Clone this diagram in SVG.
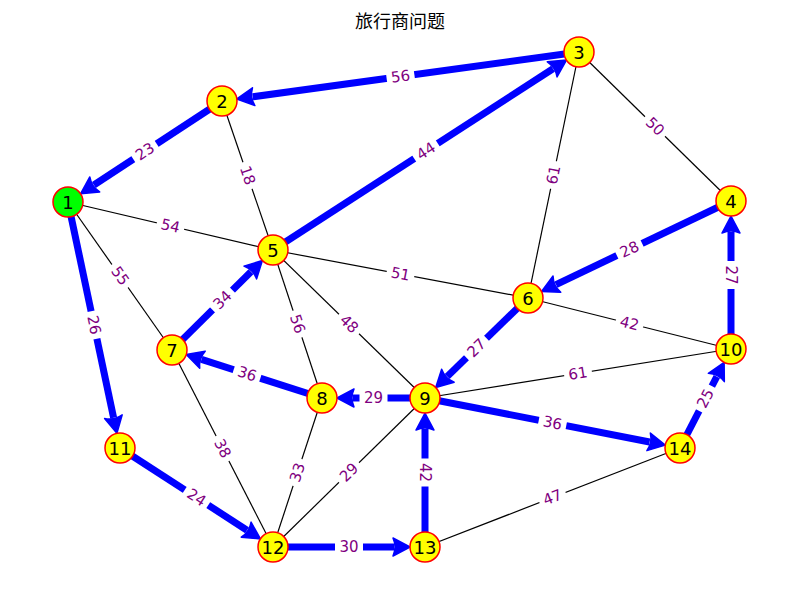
<svg xmlns="http://www.w3.org/2000/svg" width="800" height="600" viewBox="0 0 800 600">
<style>
.thin{stroke:#000;stroke-width:1.2;fill:none}
.thick{stroke:#0000ff;stroke-width:7;fill:none;marker-end:url(#ah)}
.lbg{fill:#fff}
.lt{font-family:"DejaVu Sans","Liberation Sans",sans-serif;font-size:15px;fill:#800080;text-anchor:middle;dominant-baseline:central}
.nd circle{fill:#ffff00;stroke:#ff0000;stroke-width:1.5}
.nd text{font-family:"DejaVu Sans","Liberation Sans",sans-serif;font-size:18px;fill:#000;text-anchor:middle;dominant-baseline:central}
.title{font-family:"Noto Sans CJK SC",sans-serif;font-size:18px;fill:#000;text-anchor:middle}
</style>
<defs>
<marker id="ah" markerUnits="userSpaceOnUse" orient="auto" markerWidth="22" markerHeight="22" refX="0" refY="0" viewBox="-2 -11 22 22" overflow="visible">
<path d="M-1,-9 Q3,0 -1,9 L16,0 z" fill="#0000ff" stroke="#0000ff" stroke-width="1.5" stroke-linejoin="round"/>
</marker>
</defs>
<rect width="800" height="600" fill="#fff"/>
<text class="title" x="400" y="28">旅行商问题</text>
<g id="connectors">
<line class="thin" x1="222" y1="101" x2="273" y2="250"/>
<line class="thin" x1="579" y1="52" x2="528" y2="298"/>
<line class="thin" x1="579" y1="52" x2="731" y2="201"/>
<line class="thin" x1="68" y1="202" x2="273" y2="250"/>
<line class="thin" x1="68" y1="202" x2="172" y2="350"/>
<line class="thin" x1="273" y1="250" x2="528" y2="298"/>
<line class="thin" x1="528" y1="298" x2="731" y2="349"/>
<line class="thin" x1="273" y1="250" x2="322" y2="398"/>
<line class="thin" x1="273" y1="250" x2="425" y2="398"/>
<line class="thin" x1="172" y1="350" x2="273" y2="547"/>
<line class="thin" x1="322" y1="398" x2="273" y2="547"/>
<line class="thin" x1="425" y1="398" x2="273" y2="547"/>
<line class="thin" x1="425" y1="398" x2="731" y2="349"/>
<line class="thin" x1="425" y1="547" x2="680" y2="448"/>
<line class="thick" x1="579" y1="52" x2="252.7" y2="96.8"/>
<line class="thick" x1="222" y1="101" x2="93.9" y2="185"/>
<line class="thick" x1="68" y1="202" x2="113.6" y2="417.7"/>
<line class="thick" x1="120" y1="448" x2="247" y2="530.2"/>
<line class="thick" x1="273" y1="547" x2="394" y2="547"/>
<line class="thick" x1="425" y1="547" x2="425" y2="429"/>
<line class="thick" x1="425" y1="398" x2="649.6" y2="442"/>
<line class="thick" x1="680" y1="448" x2="716.8" y2="376.6"/>
<line class="thick" x1="731" y1="349" x2="731" y2="232"/>
<line class="thick" x1="731" y1="201" x2="556" y2="284.6"/>
<line class="thick" x1="528" y1="298" x2="447.2" y2="376.4"/>
<line class="thick" x1="425" y1="398" x2="353" y2="398"/>
<line class="thick" x1="322" y1="398" x2="201.5" y2="359.4"/>
<line class="thick" x1="172" y1="350" x2="251" y2="271.8"/>
<line class="thick" x1="273" y1="250" x2="553" y2="68.8"/>
</g>
<g id="edge-labels">
<g transform="translate(400.5,76.5) rotate(-7.8)"><rect class="lbg" x="-14" y="-10" width="28" height="20"/><text class="lt">56</text></g>
<g transform="translate(145,151.5) rotate(-33.3)"><rect class="lbg" x="-14" y="-10" width="28" height="20"/><text class="lt">23</text></g>
<g transform="translate(94,325) rotate(78.1)"><rect class="lbg" x="-14" y="-10" width="28" height="20"/><text class="lt">26</text></g>
<g transform="translate(196.5,497.5) rotate(32.9)"><rect class="lbg" x="-14" y="-10" width="28" height="20"/><text class="lt">24</text></g>
<g transform="translate(349,547)"><rect class="lbg" x="-14" y="-10" width="28" height="20"/><text class="lt">30</text></g>
<g transform="translate(425,472.5) rotate(90)"><rect class="lbg" x="-14" y="-10" width="28" height="20"/><text class="lt">42</text></g>
<g transform="translate(552.5,423) rotate(11.1)"><rect class="lbg" x="-14" y="-10" width="28" height="20"/><text class="lt">36</text></g>
<g transform="translate(705.5,398.5) rotate(-62.7)"><rect class="lbg" x="-14" y="-10" width="28" height="20"/><text class="lt">25</text></g>
<g transform="translate(731,275) rotate(90)"><rect class="lbg" x="-14" y="-10" width="28" height="20"/><text class="lt">27</text></g>
<g transform="translate(629.5,249.5) rotate(-25.5)"><rect class="lbg" x="-14" y="-10" width="28" height="20"/><text class="lt">28</text></g>
<g transform="translate(476.5,348) rotate(-44.2)"><rect class="lbg" x="-14" y="-10" width="28" height="20"/><text class="lt">27</text></g>
<g transform="translate(373.5,398)"><rect class="lbg" x="-14" y="-10" width="28" height="20"/><text class="lt">29</text></g>
<g transform="translate(247,374) rotate(17.7)"><rect class="lbg" x="-14" y="-10" width="28" height="20"/><text class="lt">36</text></g>
<g transform="translate(222.5,300) rotate(-44.7)"><rect class="lbg" x="-14" y="-10" width="28" height="20"/><text class="lt">34</text></g>
<g transform="translate(426,151) rotate(-32.9)"><rect class="lbg" x="-14" y="-10" width="28" height="20"/><text class="lt">44</text></g>
<g transform="translate(247.5,175.5) rotate(71.1)"><rect class="lbg" x="-14" y="-10" width="28" height="20"/><text class="lt">18</text></g>
<g transform="translate(553.5,175) rotate(-78.3)"><rect class="lbg" x="-14" y="-10" width="28" height="20"/><text class="lt">61</text></g>
<g transform="translate(655,126.5) rotate(44.4)"><rect class="lbg" x="-14" y="-10" width="28" height="20"/><text class="lt">50</text></g>
<g transform="translate(170.5,226) rotate(13.2)"><rect class="lbg" x="-14" y="-10" width="28" height="20"/><text class="lt">54</text></g>
<g transform="translate(120,276) rotate(54.9)"><rect class="lbg" x="-14" y="-10" width="28" height="20"/><text class="lt">55</text></g>
<g transform="translate(400.5,274) rotate(10.7)"><rect class="lbg" x="-14" y="-10" width="28" height="20"/><text class="lt">51</text></g>
<g transform="translate(629.5,323.5) rotate(14.1)"><rect class="lbg" x="-14" y="-10" width="28" height="20"/><text class="lt">42</text></g>
<g transform="translate(297.5,324) rotate(71.7)"><rect class="lbg" x="-14" y="-10" width="28" height="20"/><text class="lt">56</text></g>
<g transform="translate(349,324) rotate(44.2)"><rect class="lbg" x="-14" y="-10" width="28" height="20"/><text class="lt">48</text></g>
<g transform="translate(222.5,448.5) rotate(62.9)"><rect class="lbg" x="-14" y="-10" width="28" height="20"/><text class="lt">38</text></g>
<g transform="translate(297.5,472.5) rotate(-71.8)"><rect class="lbg" x="-14" y="-10" width="28" height="20"/><text class="lt">33</text></g>
<g transform="translate(349,472.5) rotate(-44.4)"><rect class="lbg" x="-14" y="-10" width="28" height="20"/><text class="lt">29</text></g>
<g transform="translate(578,373.5) rotate(-9.1)"><rect class="lbg" x="-14" y="-10" width="28" height="20"/><text class="lt">61</text></g>
<g transform="translate(552.5,497.5) rotate(-21.2)"><rect class="lbg" x="-14" y="-10" width="28" height="20"/><text class="lt">47</text></g>
</g>
<g id="node1" class="nd"><circle cx="68" cy="202" r="15" style="fill:#00ff00"/><text x="68" y="202">1</text></g>
<g id="node2" class="nd"><circle cx="222" cy="101" r="15"/><text x="222" y="101">2</text></g>
<g id="node3" class="nd"><circle cx="579" cy="52" r="15"/><text x="579" y="52">3</text></g>
<g id="node4" class="nd"><circle cx="731" cy="201" r="15"/><text x="731" y="201">4</text></g>
<g id="node5" class="nd"><circle cx="273" cy="250" r="15"/><text x="273" y="250">5</text></g>
<g id="node6" class="nd"><circle cx="528" cy="298" r="15"/><text x="528" y="298">6</text></g>
<g id="node7" class="nd"><circle cx="172" cy="350" r="15"/><text x="172" y="350">7</text></g>
<g id="node8" class="nd"><circle cx="322" cy="398" r="15"/><text x="322" y="398">8</text></g>
<g id="node9" class="nd"><circle cx="425" cy="398" r="15"/><text x="425" y="398">9</text></g>
<g id="node10" class="nd"><circle cx="731" cy="349" r="15"/><text x="731" y="349">10</text></g>
<g id="node11" class="nd"><circle cx="120" cy="448" r="15"/><text x="120" y="448">11</text></g>
<g id="node12" class="nd"><circle cx="273" cy="547" r="15"/><text x="273" y="547">12</text></g>
<g id="node13" class="nd"><circle cx="425" cy="547" r="15"/><text x="425" y="547">13</text></g>
<g id="node14" class="nd"><circle cx="680" cy="448" r="15"/><text x="680" y="448">14</text></g>
</svg>
